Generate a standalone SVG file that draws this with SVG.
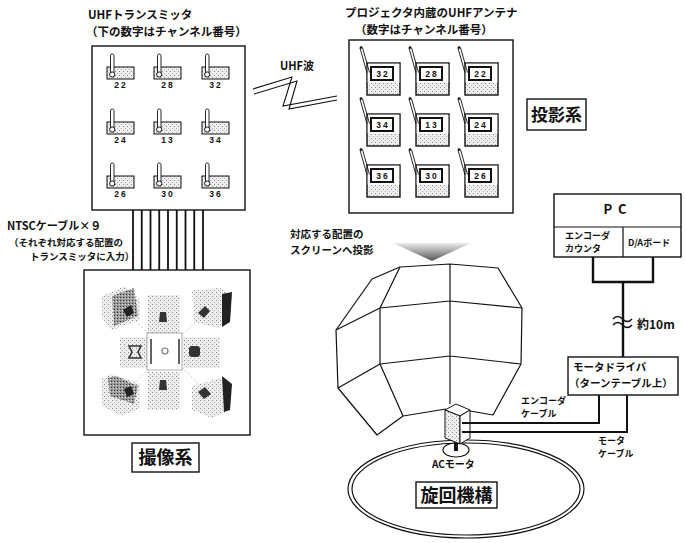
<svg xmlns="http://www.w3.org/2000/svg" width="686" height="543" viewBox="0 0 686 543">
<style>
  .t{font-family:"Noto Sans CJK JP","Liberation Sans",sans-serif;font-weight:bold;fill:#111}
  .ln{fill:none;stroke:#111;stroke-width:1.2;stroke-linejoin:round}
  .th{fill:none;stroke:#111;stroke-width:2.4}
  .box{fill:#fff;stroke:#111;stroke-width:1.4}
  .num{font-family:"Liberation Sans",sans-serif;font-weight:bold;font-size:8.5px;text-anchor:middle;letter-spacing:2px;fill:#111}
  .mid{text-anchor:middle}
</style>
<defs>
  <pattern id="dots" width="4" height="4" patternUnits="userSpaceOnUse">
    <rect width="4" height="4" fill="#eeeeee"/>
    <rect x="0" y="0" width="1" height="1" fill="#8a8a8a"/>
    <rect x="2" y="2" width="1" height="1" fill="#a8a8a8"/>
  </pattern>
  <pattern id="dotsDark" width="3" height="3" patternUnits="userSpaceOnUse">
    <rect width="3" height="3" fill="#999"/>
    <rect x="0" y="0" width="1" height="1" fill="#333"/>
    <rect x="2" y="1" width="1" height="1" fill="#ddd"/>
  </pattern>
  <linearGradient id="beam" x1="0" y1="0" x2="0" y2="1">
    <stop offset="0" stop-color="#ececec"/>
    <stop offset="1" stop-color="#555"/>
  </linearGradient>
  <!-- UHF transmitter: stippled case with a whip antenna -->
  <g id="tx">
    <rect x="0" y="0" width="27" height="12" fill="url(#dots)" stroke="#111" stroke-width="1"/>
    <rect x="3.5" y="-13" width="3.5" height="20" rx="1.7" fill="#fff" stroke="#111" stroke-width="0.9"/>
    <circle cx="5.2" cy="7.5" r="2.6" fill="#fff" stroke="#111" stroke-width="1"/>
  </g>
  <!-- projector receiver: body, channel window and slanted antenna -->
  <g id="pj">
    <rect x="0" y="0" width="33" height="32" fill="url(#dots)" stroke="#111" stroke-width="1.4"/>
    <rect x="0.7" y="0.7" width="31.6" height="19" fill="#fff"/>
    <rect x="4" y="4" width="22" height="13" fill="#fff" stroke="#111" stroke-width="2"/>
    <path d="M-7,-15 L0,10 M-4.5,-15.5 L2.5,9.5" stroke="#111" stroke-width="0.9" fill="none"/>
    <circle cx="-6" cy="-15.5" r="1.3" fill="#111"/>
  </g>
</defs>

<!-- camera side: transmitters -->
<g id="transmitters">
  <text class="t" x="88" y="19" font-size="11.5">UHFトランスミッタ</text>
  <text class="t" x="86" y="36" font-size="11.5">（下の数字はチャンネル番号）</text>
  <rect class="box" x="92" y="46" width="153" height="164"/>
  <use href="#tx" x="107" y="67"/><use href="#tx" x="154" y="67"/><use href="#tx" x="202" y="67"/>
  <use href="#tx" x="107" y="122"/><use href="#tx" x="154" y="122"/><use href="#tx" x="202" y="122"/>
  <use href="#tx" x="107" y="176"/><use href="#tx" x="154" y="176"/><use href="#tx" x="202" y="176"/>
  <text class="num" x="121" y="88">22</text><text class="num" x="168" y="88">28</text><text class="num" x="216" y="88">32</text>
  <text class="num" x="121" y="143">24</text><text class="num" x="168" y="143">13</text><text class="num" x="216" y="143">34</text>
  <text class="num" x="121" y="197">26</text><text class="num" x="168" y="197">30</text><text class="num" x="216" y="197">36</text>
</g>

<!-- camera rig -->
<g id="cameras">
  <rect class="box" x="84" y="270" width="166" height="165"/>
  <g stroke="#bbb" stroke-width="0.8" stroke-dasharray="2 2" fill="none">
    <path d="M165,351 L128,313 M165,351 L205,313 M165,351 L128,390 M165,351 L205,390"/>
  </g>
  <!-- side screens -->
  <rect x="148" y="295" width="32" height="38" fill="url(#dots)"/>
  <rect x="148" y="372" width="32" height="38" fill="url(#dots)"/>
  <rect x="120" y="337" width="27" height="31" fill="url(#dots)"/>
  <rect x="183" y="337" width="37" height="31" fill="url(#dots)"/>
  <rect x="147" y="333" width="35" height="37" fill="#fff" stroke="#999" stroke-width="0.8"/>
  <path d="M151,339 L151,364 M179,339 L179,364" stroke="#222" stroke-width="1.4"/>
  <circle cx="165" cy="351" r="3" fill="#fff" stroke="#777" stroke-width="1.2"/>
  <!-- small cameras -->
  <path d="M159,322 L160,312 L166,312 L167,322 Z" fill="#333"/>
  <path d="M159,390 L160,380 L166,380 L167,390 Z" fill="#333"/>
  <path d="M129,346 L141,346 L138,352 L141,358 L129,358 L132,352 Z" fill="none" stroke="#333" stroke-width="1.6"/>
  <rect x="189" y="346" width="11" height="11" rx="3" fill="#333"/>
  <!-- corner screens -->
  <path d="M102,296 L125,286 L140,300 L140,320 L112,330 L102,318 Z" fill="url(#dots)"/>
  <path d="M112,296 L134,288 L138,316 L114,326 Z" fill="url(#dotsDark)"/>
  <path d="M123,310 L131,305 L134,313 L127,317 Z" fill="#222"/>
  <path d="M192,290 L220,288 L232,296 L230,322 L218,328 L194,322 Z" fill="url(#dots)"/>
  <path d="M222,294 L232,292 L230,322 L222,327 Z" fill="#222"/>
  <path d="M198,313 L205,306 L210,311 L204,318 Z" fill="#333"/>
  <path d="M102,378 L112,374 L140,384 L140,408 L122,416 L102,406 Z" fill="url(#dots)"/>
  <path d="M108,378 L116,376 L138,386 L134,404 L110,396 Z" fill="url(#dotsDark)"/>
  <path d="M124,389 L131,386 L134,394 L127,397 Z" fill="#222"/>
  <path d="M192,386 L220,378 L232,386 L230,410 L212,418 L192,410 Z" fill="url(#dots)"/>
  <path d="M222,376 L232,384 L230,410 L224,412 Z" fill="#222"/>
  <path d="M198,392 L205,387 L211,394 L204,399 Z" fill="#333"/>
  <rect x="132" y="443" width="67" height="29" class="box"/>
  <text class="t mid" x="165.5" y="464" font-size="18">撮像系</text>
</g>

<!-- receivers built into the projectors -->
<g id="projectors">
  <text class="t" x="345" y="17" font-size="11.5">プロジェクタ内蔵のUHFアンテナ</text>
  <text class="t" x="355" y="34" font-size="11.5">（数字はチャンネル番号）</text>
  <rect class="box" x="349" y="40" width="164" height="173"/>
  <use href="#pj" x="367" y="63"/><use href="#pj" x="416" y="63"/><use href="#pj" x="465" y="63"/>
  <use href="#pj" x="367" y="114"/><use href="#pj" x="416" y="114"/><use href="#pj" x="465" y="114"/>
  <use href="#pj" x="367" y="165"/><use href="#pj" x="416" y="165"/><use href="#pj" x="465" y="165"/>
  <text class="num" x="383" y="77">32</text><text class="num" x="432" y="77">28</text><text class="num" x="481" y="77">22</text>
  <text class="num" x="383" y="128">34</text><text class="num" x="432" y="128">13</text><text class="num" x="481" y="128">24</text>
  <text class="num" x="383" y="179">36</text><text class="num" x="432" y="179">30</text><text class="num" x="481" y="179">26</text>
  <rect class="box" x="527" y="99" width="59" height="31"/>
  <text class="t mid" x="556.5" y="121" font-size="17">投影系</text>
</g>

<!-- dome screen -->
<g id="screen">
  <text class="t" x="290" y="238" font-size="10.5">対応する配置の</text>
  <text class="t" x="290" y="254" font-size="10.5">スクリーンへ投影</text>
  <polygon points="393,243 471,243 432,261" fill="url(#beam)"/>
  <path class="ln" d="M450,264 L400,267 L372,279 L336,330 L338,388 L377,435 L403,416 L446,409 M470,411 L493,415 L521,364 L522,308 L498,268 L450,264"/>
  <path class="ln" d="M336,330 L380,308 L450,301 L522,308 M400,267 L380,308 L380,364 L450,356 L521,364 M380,364 L338,388 M380,364 L403,416 M450,264 L450,404"/>
</g>

<!-- PC -->
<g id="pc">
  <rect class="box" x="554" y="194" width="127" height="63"/>
  <path class="ln" d="M554,227 L681,227 M623,227 L623,257"/>
  <text class="t mid" x="618" y="214" font-size="13" letter-spacing="6">PC</text>
  <text class="t" x="565" y="239" font-size="9">エンコーダ</text>
  <text class="t" x="565" y="252" font-size="9">カウンタ</text>
  <text class="t" x="628" y="246" font-size="9">D/Aボード</text>
</g>

<!-- motor driver -->
<g id="driver">
  <rect class="box" x="568" y="357" width="110" height="38"/>
  <text class="t" x="573" y="371" font-size="10.5">モータドライバ</text>
  <text class="t" x="569" y="387" font-size="10.5">（ターンテーブル上）</text>
</g>

<!-- turntable with AC motor -->
<g id="turntable">
  <ellipse cx="466" cy="489" rx="118" ry="49" fill="none" stroke="#111" stroke-width="1.2"/>
  <ellipse cx="466" cy="489" rx="114" ry="46" fill="none" stroke="#111" stroke-width="1.2"/>
  <ellipse cx="456" cy="450" rx="13" ry="7" fill="#fff" stroke="#111" stroke-width="1.2"/>
  <rect x="454" y="442" width="4" height="9" fill="#111"/>
  <polygon points="445,410 456,404 470,410 460,416" fill="#fff" stroke="#111" stroke-width="1"/>
  <polygon points="445,410 460,416 460,444 445,438" fill="url(#dots)" stroke="#111" stroke-width="1"/>
  <polygon points="460,416 470,410 470,438 460,444" fill="#fff" stroke="#111" stroke-width="1"/>
  <text class="t" x="432" y="468" font-size="10">ACモータ</text>
  <rect class="box" x="416" y="482" width="81" height="26"/>
  <text class="t mid" x="456.5" y="502" font-size="18">旋回機構</text>
</g>

<!-- connectors -->
<g id="connectors">
  <path d="M253,89 L292,77 L283,106 L337,96" fill="none" stroke="#111" stroke-width="1.1"/>
  <path d="M254,94 L297,81 L289,109 L337,100" fill="none" stroke="#111" stroke-width="1.1"/>
  <text class="t" x="280" y="70" font-size="11">UHF波</text>
  <g stroke="#111" stroke-width="1.8">
    <path d="M133,210 V270 M141.75,210 V270 M150.5,210 V270 M159.25,210 V270 M168,210 V270 M176.75,210 V270 M185.5,210 V270 M194.25,210 V270 M203,210 V270"/>
  </g>
  <text class="t" x="7" y="230" font-size="11">NTSCケーブル×９</text>
  <text class="t" x="9" y="246" font-size="9.5">（それぞれ対応する配置の</text>
  <text class="t" x="30" y="260" font-size="9.5">トランスミッタに入力）</text>
  <path class="th" d="M593,257 V282 H653 V257 M623,282 V357"/>
  <path d="M613,319 q4.5,-5 9.5,0 t9.5,0 M613,325 q4.5,-5 9.5,0 t9.5,0" fill="none" stroke="#111" stroke-width="1.6"/>
  <text class="t" x="637" y="329" font-size="12">約10m</text>
  <path d="M599,395 V423 H462" fill="none" stroke="#111" stroke-width="2"/>
  <path d="M627,395 V432 H462" fill="none" stroke="#111" stroke-width="2"/>
  <text class="t" x="521" y="404" font-size="9">エンコーダ</text>
  <text class="t" x="521" y="417" font-size="9">ケーブル</text>
  <text class="t" x="598" y="444" font-size="9">モータ</text>
  <text class="t" x="598" y="457" font-size="9">ケーブル</text>
</g>
</svg>
